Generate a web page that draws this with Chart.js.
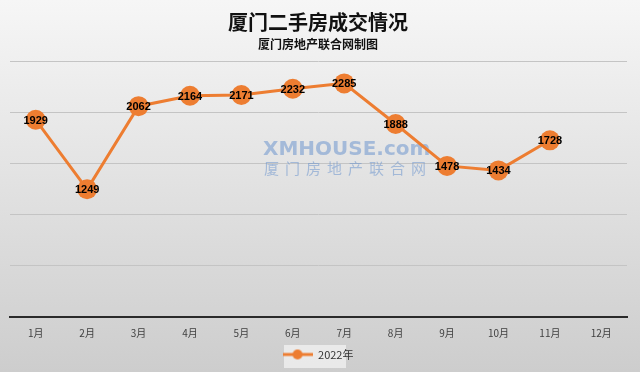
<!DOCTYPE html>
<html>
<head>
<meta charset="utf-8">
<script src="https://cdn.jsdelivr.net/npm/chart.js@4"></script>
<style>
  html, body { margin: 0; padding: 0; }
  body { width: 640px; height: 372px; background: linear-gradient(#f6f6f6, #cdcdcd); }
  #wrap { width: 640px; height: 372px; }
</style>
</head>
<body>
<div id="wrap"><canvas id="line"></canvas></div>
<script>
const months = ['1月', '2月', '3月', '4月', '5月', '6月', '7月', '8月', '9月', '10月', '11月', '12月'];
const sales2022 = [1929, 1249, 2062, 2164, 2171, 2232, 2285, 1888, 1478, 1434, 1728, null];
const yTicks = [0, 500, 1000, 1500, 2000, 2500];

const orange = '#ED7D31';

// legend marker: short line with a dot
const marker = document.createElement('canvas');
marker.width = 30; marker.height = 12;
(function () {
    const c = marker.getContext('2d');
    c.strokeStyle = orange; c.lineWidth = 3;
    c.beginPath(); c.moveTo(0, 6); c.lineTo(30, 6); c.stroke();
    c.fillStyle = orange;
    c.beginPath(); c.arc(15, 6, 5, 0, Math.PI * 2); c.fill();
})();

const extras = {
    id: 'extras',
    beforeDatasetsDraw(chart) {
        const ctx = chart.ctx;
        ctx.save();
        // watermark
        ctx.fillStyle = 'rgba(110,150,205,0.55)';
        ctx.font = 'bold 20px "DejaVu Sans"';
        ctx.textAlign = 'left';
        ctx.textBaseline = 'middle';
        ctx.fillText('XMHOUSE.com', 263, 150);
        ctx.font = '15px "Noto Sans CJK SC"';
        const chars = '厦门房地产联合网';
        for (let i = 0; i < chars.length; i++) {
            ctx.fillText(chars[i], 264 + i * 21, 168);
        }
        ctx.restore();
    },
    beforeDraw(chart) {
        const ctx = chart.ctx;
        ctx.save();
        ctx.fillStyle = 'rgba(240,240,240,0.8)';
        ctx.fillRect(284, 345, 62, 23);
        ctx.restore();
    },
    afterDatasetsDraw(chart) {
        const ctx = chart.ctx;
        const meta = chart.getDatasetMeta(0);
        ctx.save();
        ctx.fillStyle = '#000';
        ctx.font = 'bold 11px "Liberation Sans"';
        ctx.textAlign = 'center';
        ctx.textBaseline = 'middle';
        meta.data.forEach((pt, i) => {
            const v = sales2022[i];
            if (v == null) return;
            ctx.fillText(String(v), pt.x, pt.y + 1);
        });
        ctx.restore();
    }
};

const LineChart = document.getElementById('line').getContext('2d');
const myLine = new Chart(LineChart, {
    type: 'line',
    data: {
        labels: months,
        datasets: [{
            label: '2022年',
            data: sales2022,
            borderColor: orange,
            backgroundColor: orange,
            borderWidth: 3,
            pointRadius: 10,
            pointBorderWidth: 0,
            pointBackgroundColor: orange,
            pointStyle: 'circle',
            tension: 0
        }]
    },
    options: {
        responsive: true,
        maintainAspectRatio: false,
        animation: false,
        layout: {
            padding: { left: 9, right: 13, top: 4, bottom: 2 }
        },
        scales: {
            x: {
                offset: true,
                grid: { display: false },
                border: { display: true, color: '#2a2a2a', width: 2 },
                ticks: {
                    color: '#404040',
                    font: { size: 10, family: '"Noto Sans CJK SC"' },
                    padding: 2
                }
            },
            y: {
                min: yTicks[0],
                max: yTicks[yTicks.length - 1],
                afterBuildTicks(axis) { axis.ticks = yTicks.map(v => ({ value: v })); },
                ticks: { display: false },
                border: { display: false },
                grid: { color: '#c4c4c4', lineWidth: 1, drawTicks: false }
            }
        },
        plugins: {
            title: {
                display: true,
                text: '厦门二手房成交情况',
                color: '#111',
                font: { size: 20, weight: 'bold', family: '"Noto Sans CJK SC"' },
                padding: { top: 6, bottom: 0 }
            },
            subtitle: {
                display: true,
                text: '厦门房地产联合网制图',
                color: '#111',
                font: { size: 12, weight: 'bold', family: '"Noto Sans CJK SC"' },
                padding: { top: 3, bottom: 10 }
            },
            legend: {
                position: 'bottom',
                labels: {
                    color: '#333',
                    font: { size: 11, family: '"Noto Sans CJK SC"' },
                    usePointStyle: true,
                    pointStyle: marker,
                    pointStyleWidth: 30,
                    padding: 8
                }
            },
            tooltip: { enabled: false }
        }
    },
    plugins: [extras]
});
</script>
</body>
</html>
